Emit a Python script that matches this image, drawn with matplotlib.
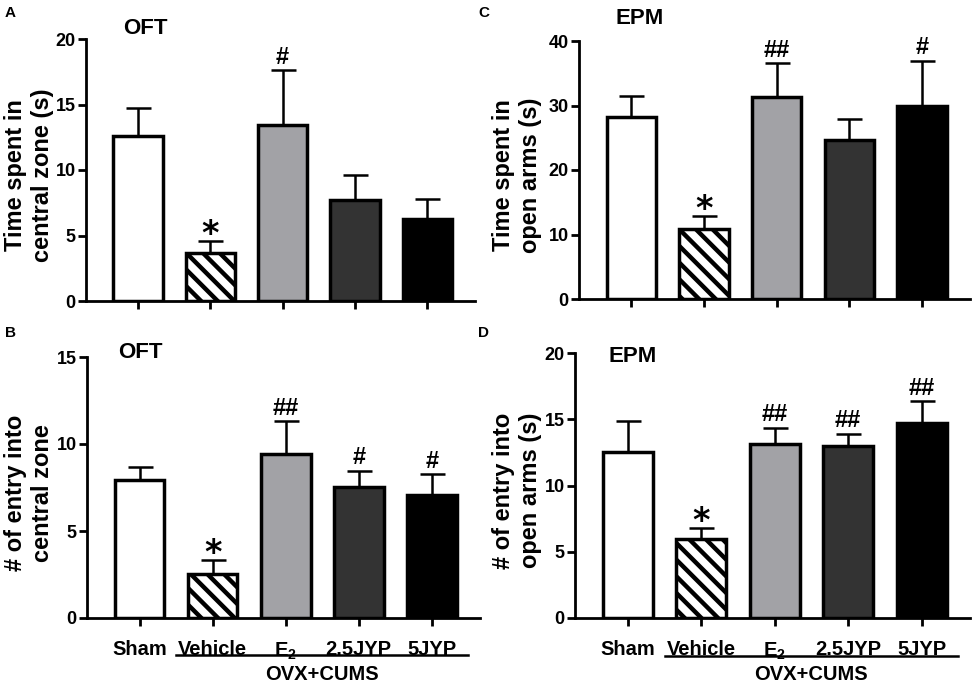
import matplotlib
matplotlib.use("Agg")
import matplotlib.pyplot as plt
from matplotlib.lines import Line2D

plt.rcParams['font.family'] = ['Liberation Sans', 'DejaVu Sans']
plt.rcParams['font.weight'] = 'bold'
plt.rcParams['mathtext.fontset'] = 'custom'
plt.rcParams['mathtext.rm'] = 'Liberation Sans:bold'
plt.rcParams['mathtext.bf'] = 'Liberation Sans:bold'
plt.rcParams['hatch.linewidth'] = 3.2

groups = ['Sham', 'Vehicle', r'E$_{2}$', '2.5JYP', '5JYP']
bar_colors = ['#ffffff', '#ffffff', '#a2a2a6', '#333333', '#000000']
bar_hatches = ['', '\\\\', '', '', '']

# Panel A: OFT time in central zone
a_mean = [12.6, 3.7, 13.45, 7.7, 6.25]
a_err = [2.1, 0.85, 4.15, 1.9, 1.5]
a_sig = ['', '*', '#', '', '']
# Panel B: OFT entries into central zone
b_mean = [7.95, 2.55, 9.4, 7.55, 7.05]
b_err = [0.73, 0.77, 1.9, 0.92, 1.2]
b_sig = ['', '*', '##', '#', '#']
# Panel C: EPM time in open arms
c_mean = [28.25, 10.9, 31.3, 24.6, 29.95]
c_err = [3.25, 2.0, 5.3, 3.3, 7.0]
c_sig = ['', '*', '##', '', '#']
# Panel D: EPM entries into open arms
d_mean = [12.5, 6.0, 13.1, 13.0, 14.7]
d_err = [2.35, 0.8, 1.25, 0.9, 1.65]
d_sig = ['', '*', '##', '##', '##']

W, H = 976, 689
fig = plt.figure(figsize=(W / 100, H / 100), dpi=100)


def px_axes(l, r, t, b):
    return fig.add_axes([l / W, 1 - b / H, (r - l) / W, (b - t) / H])


def panel(box, mean, err, sig, ymax, ystep, ylabel, title, title_xy, letter, letter_xy,
          show_xlabels, ylab_x):
    ax = px_axes(*box)
    x = list(range(len(mean)))
    ax.bar(x, mean, width=0.68, color=bar_colors, edgecolor='black',
           linewidth=2.5, hatch=bar_hatches, zorder=2)
    ax.errorbar(x, mean, yerr=[[0] * len(err), err], fmt='none', ecolor='black',
                elinewidth=1.8, capsize=9, capthick=1.8, zorder=1)
    for xi, m, e, s in zip(x, mean, err, sig):
        if not s:
            continue
        if s == '*':
            ax.annotate(s, (xi, m + e), xytext=(0, -7), textcoords='offset points',
                        ha='center', va='bottom', fontsize=24, fontweight='bold',
                        family=['DejaVu Sans'])
        else:
            ax.annotate(s, (xi, m + e), xytext=(0, 1), textcoords='offset points',
                        ha='center', va='bottom', fontsize=17, fontweight='bold')
    ax.set_xlim(-0.72, 4.66)
    ax.set_ylim(0, ymax)
    ax.set_yticks(list(range(0, ymax + 1, ystep)))
    ax.spines['top'].set_visible(False)
    ax.spines['right'].set_visible(False)
    ax.spines['left'].set_linewidth(2)
    ax.spines['bottom'].set_linewidth(2)
    ax.tick_params(axis='both', width=2, length=6, labelsize=13, pad=1.5)
    for lab in ax.get_yticklabels():
        lab.set_fontweight('bold')
    ax.set_xticks(x)
    if show_xlabels:
        ax.set_xticklabels(groups, fontsize=14.5, fontweight='bold')
        ax.tick_params(axis='x', pad=10)
        ax.add_line(Line2D([0.5, 4.5], [-0.142, -0.142], color='black', linewidth=1.8,
                           transform=ax.get_xaxis_transform(), clip_on=False))
        ax.text(2.5, -0.215, 'OVX+CUMS', transform=ax.get_xaxis_transform(),
                ha='center', va='center', fontsize=14.5, fontweight='bold')
    else:
        ax.set_xticklabels([])
    ax.set_ylabel(ylabel, fontsize=17, fontweight='bold', linespacing=1.2)
    ax.yaxis.set_label_coords(ylab_x, 0.48)
    fig.text(title_xy[0] / W, 1 - title_xy[1] / H, title, ha='center', va='center',
             fontsize=16, fontweight='bold')
    fig.text(letter_xy[0] / W, 1 - letter_xy[1] / H, letter, ha='left', va='center',
             fontsize=11, fontweight='bold')
    return ax


panel((86, 475, 39, 301), a_mean, a_err, a_sig, 20, 5,
      'Time spent in\ncentral zone (s)', 'OFT', (145, 29), 'A', (5, 13), False, -0.083)
panel((579, 970, 41, 299), c_mean, c_err, c_sig, 40, 10,
      'Time spent in\nopen arms (s)', 'EPM', (640, 18), 'C', (478, 13), False, -0.095)
panel((87, 480, 357, 618), b_mean, b_err, b_sig, 15, 5,
      '# of entry into\ncentral zone', 'OFT', (140, 353), 'B', (5, 333), True, -0.085)
panel((575, 970, 353, 618), d_mean, d_err, d_sig, 20, 5,
      '# of entry into\nopen arms (s)', 'EPM', (633, 356), 'D', (478, 333), True, -0.084)

fig.savefig('out.png', dpi=100)
